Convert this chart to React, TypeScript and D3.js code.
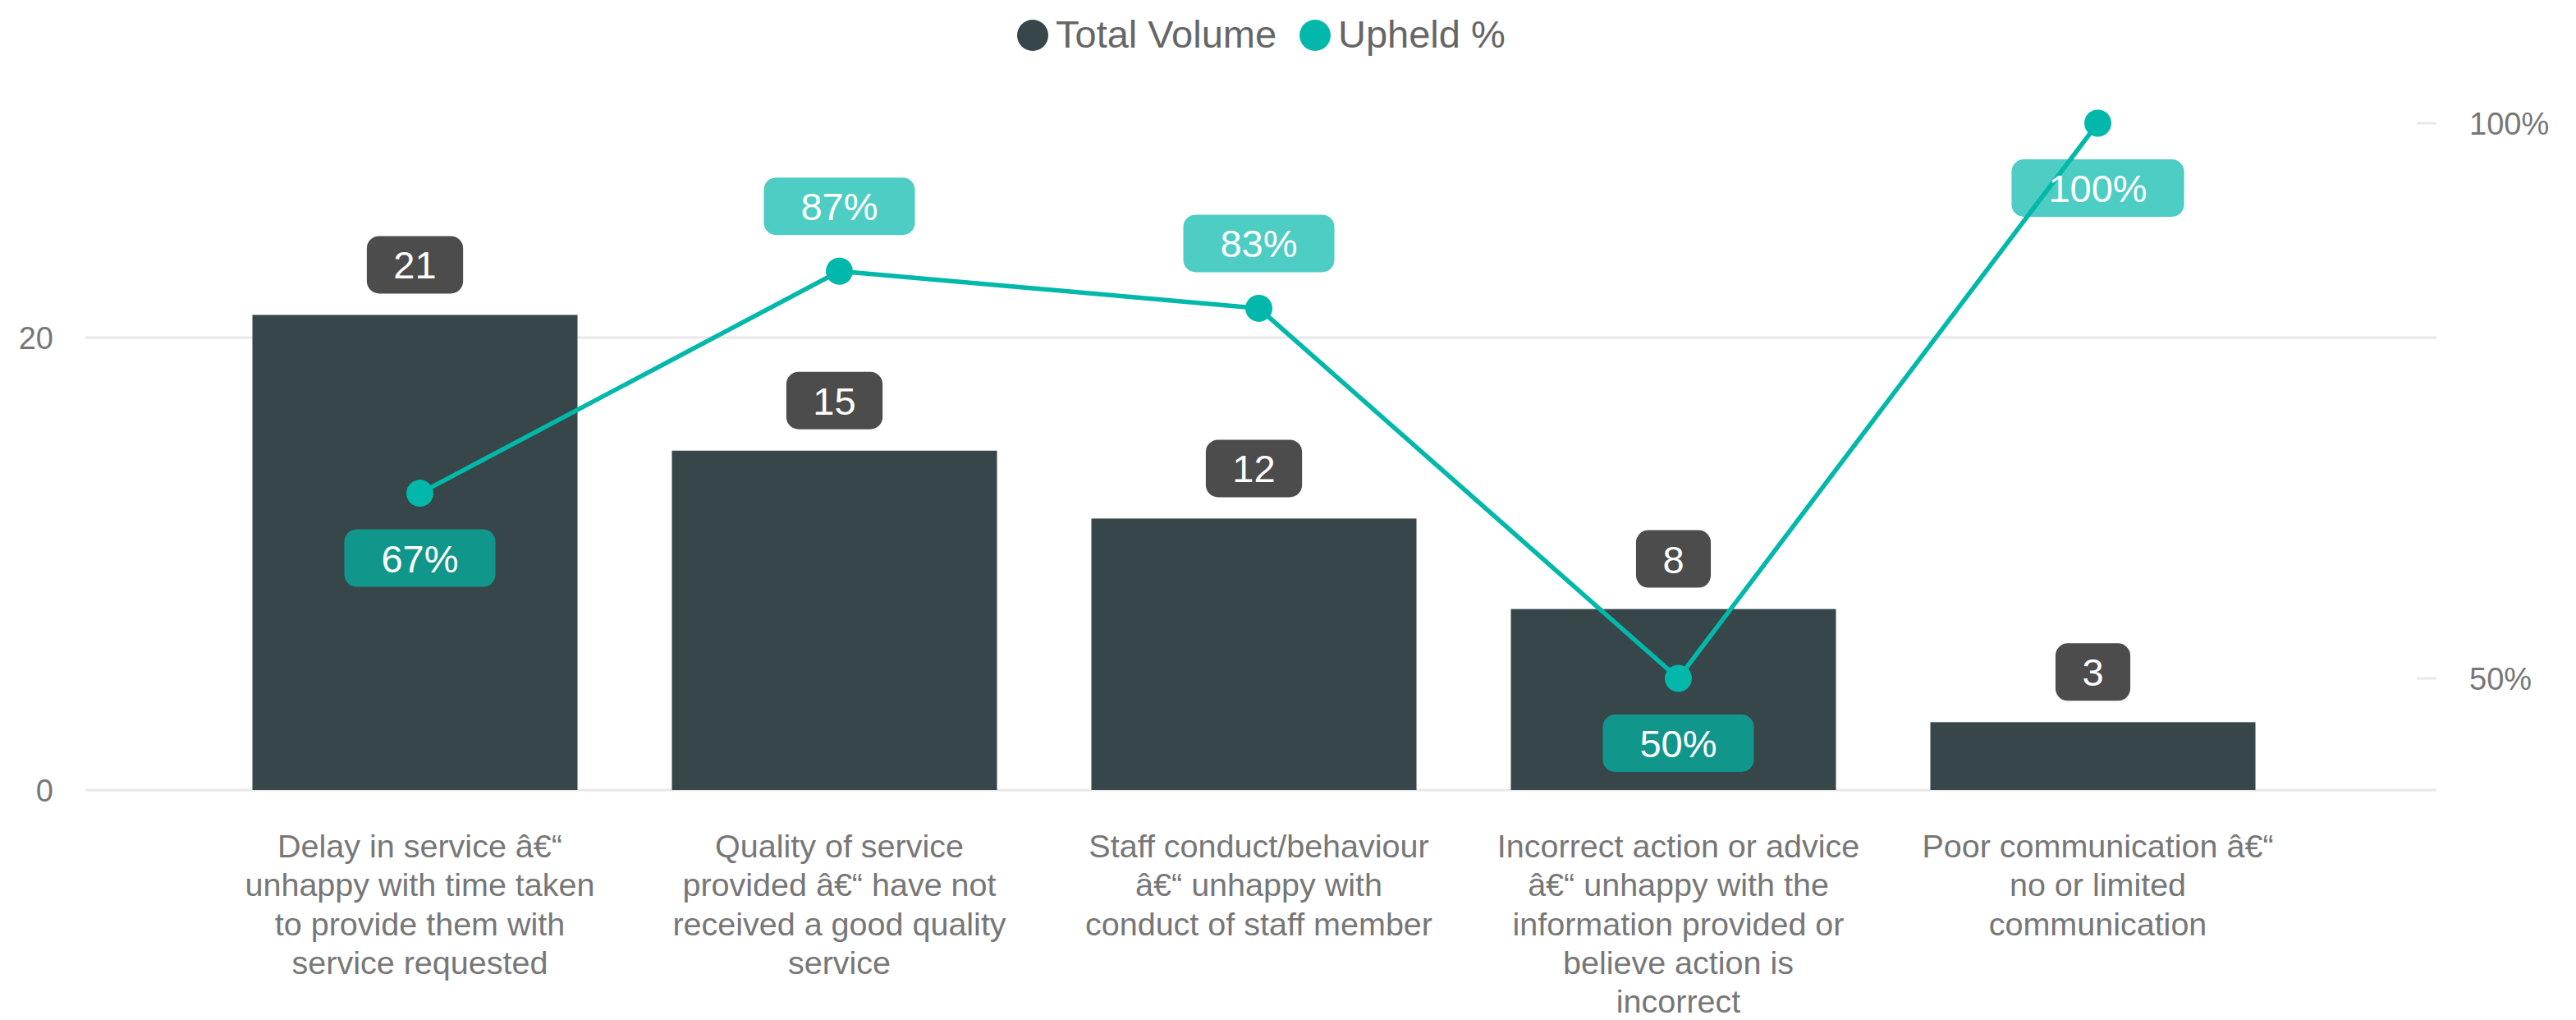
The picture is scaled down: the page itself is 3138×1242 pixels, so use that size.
import React from "react";
import * as d3 from "d3";

// mis-decoded en dash, kept as it shows in the source
const DASH = "\u00e2\u20ac\u201c";

const categories: string[][] = [
  [`Delay in service ${DASH}`, "unhappy with time taken", "to provide them with", "service requested"],
  ["Quality of service", `provided ${DASH} have not`, "received a good quality", "service"],
  ["Staff conduct/behaviour", `${DASH} unhappy with`, "conduct of staff member"],
  ["Incorrect action or advice", `${DASH} unhappy with the`, "information provided or", "believe action is", "incorrect"],
  [`Poor communication ${DASH}`, "no or limited", "communication"],
];
const totalVolume = [21, 15, 12, 8, 3];
const upheldPct = [66.67, 86.67, 83.33, 50, 100];
const leftTicks = [0, 20];
const rightTicks = [50, 100];
const seriesNames = ["Total Volume", "Upheld %"];
// where Power BI put the % label relative to the point
const pctLabelSide = ["below", "above", "above", "below", "below"];

const W = 3138;
const H = 1242;
const FONT = "'Liberation Sans', Arial, sans-serif";
const BAR = "#374649";
const TEAL = "#01B8AA";

const measure = (() => {
  const ctx = document.createElement("canvas").getContext("2d");
  return (txt: string, size: number) => {
    if (!ctx) return txt.length * size * 0.55;
    ctx.font = `${size}px ${FONT}`;
    return ctx.measureText(txt).width;
  };
})();

export default function App() {
  const idx = d3.range(categories.length);

  const x = d3.scaleBand<number>()
    .domain(idx)
    .range([250, 2805])
    .paddingInner(0.225)
    .paddingOuter(0.1125);
  const shift = 6; // Power BI puts points / labels a bit right of bar centre
  const cx = (i: number) => (x(i) as number) + x.bandwidth() / 2 + shift;

  const yL = d3.scaleLinear().domain([0, 20]).range([962, 411]);
  const yR = d3.scaleLinear().domain([50, 100]).range([826, 150]);

  const line = d3.line<number>()
    .x((d, i) => cx(i))
    .y((d) => yR(d));

  const lblSize = 47;
  const boxH = 70;

  return (
    <div style={{ position: "absolute", left: 0, top: 0 }}>
      <svg width={W} height={H} style={{ display: "block", background: "#fff" }} fontFamily={FONT}>
        {/* legend */}
        <g>
          <circle cx={1258} cy={43} r={19} fill={BAR} />
          <text x={1286} y={58} fontSize={47} fill="#666">{seriesNames[0]}</text>
          <circle cx={1602} cy={43} r={19} fill={TEAL} />
          <text x={1630} y={58} fontSize={47} fill="#666">{seriesNames[1]}</text>
        </g>

        {/* gridlines + left axis */}
        {leftTicks.map((t) => (
          <g key={"l" + t}>
            <line x1={104} x2={2968} y1={yL(t)} y2={yL(t)} stroke="#e8e8e8" strokeWidth={3} />
            <text x={65} y={yL(t)} dy="0.36em" textAnchor="end" fontSize={38} fill="#777">{t}</text>
          </g>
        ))}
        {/* right axis */}
        {rightTicks.map((t) => (
          <g key={"r" + t}>
            <line x1={2944} x2={2968} y1={yR(t)} y2={yR(t)} stroke="#e8e8e8" strokeWidth={3} />
            <text x={3008} y={yR(t)} dy="0.36em" fontSize={38} fill="#777">{t}%</text>
          </g>
        ))}

        {/* bars */}
        {totalVolume.map((v, i) => (
          <rect key={"b" + i} x={x(i)} y={yL(v)} width={x.bandwidth()} height={yL(0) - yL(v)} fill={BAR} />
        ))}

        {/* volume labels */}
        {totalVolume.map((v, i) => {
          const w = measure(String(v), lblSize) + 65;
          const mid = (x(i) as number) + x.bandwidth() / 2;
          const top = yL(v) - 26 - boxH;
          return (
            <g key={"vl" + i}>
              <rect x={mid - w / 2} y={top} width={w} height={boxH} rx={15} fill="#000" fillOpacity={0.7} />
              <text x={mid} y={top + boxH / 2} dy="0.36em" textAnchor="middle" fontSize={lblSize} fill="#fff">{v}</text>
            </g>
          );
        })}

        {/* line + markers */}
        <path d={line(upheldPct) || ""} fill="none" stroke={TEAL} strokeWidth={5.5} strokeLinejoin="round" />
        {upheldPct.map((p, i) => (
          <circle key={"d" + i} cx={cx(i)} cy={yR(p)} r={16.5} fill={TEAL} />
        ))}

        {/* % labels */}
        {upheldPct.map((p, i) => {
          const txt = `${Math.round(p)}%`;
          const w = measure(txt, lblSize) + 90;
          const top = pctLabelSide[i] === "below" ? yR(p) + 44 : yR(p) - 44 - boxH;
          return (
            <g key={"pl" + i}>
              <rect x={cx(i) - w / 2} y={top} width={w} height={boxH} rx={15} fill={TEAL} fillOpacity={0.7} />
              <text x={cx(i)} y={top + boxH / 2} dy="0.36em" textAnchor="middle" fontSize={lblSize} fill="#fff">{txt}</text>
            </g>
          );
        })}

        {/* category labels */}
        {categories.map((lines, i) => (
          <text key={"c" + i} textAnchor="middle" fontSize={39.5} fill="#777">
            {lines.map((ln, k) => (
              <tspan key={k} x={cx(i)} y={1044 + k * 47.3}>{ln}</tspan>
            ))}
          </text>
        ))}
      </svg>
    </div>
  );
}
